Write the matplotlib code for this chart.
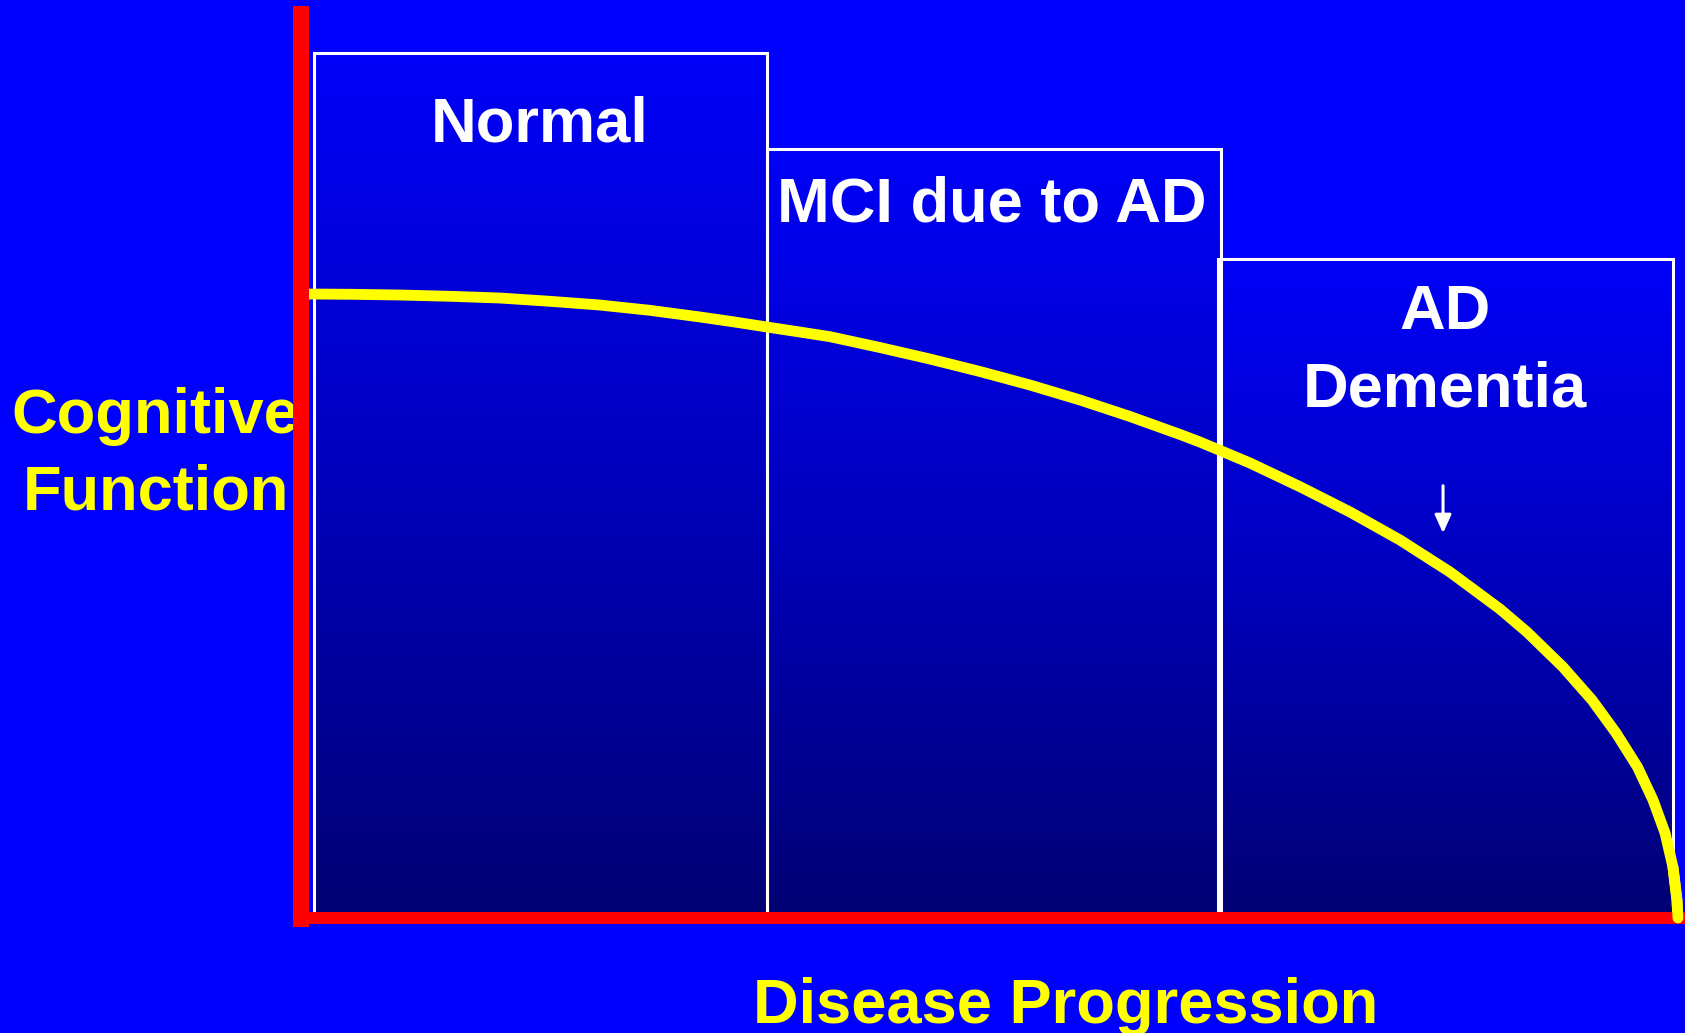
import numpy as np
import matplotlib.pyplot as plt
from matplotlib.colors import LinearSegmentedColormap
from matplotlib.patches import Rectangle

# stages of the disease: left/right edge and top of each box
stage_left = [1.0, 33.7, 66.3]
stage_right = [33.7, 66.5, 99.1]
stage_top = [94.9, 84.3, 72.3]

# cognitive function along disease progression
progression = [0.58, 3.61, 7.22, 10.83, 14.44, 18.05, 21.66, 25.27, 28.88,
               31.26, 33.72, 36.10, 38.27, 41.88, 45.49, 49.10, 52.71, 56.32,
               59.93, 63.54, 64.98, 68.59, 72.20, 75.81, 79.42, 83.03, 86.64,
               88.59, 91.19, 93.29, 95.02, 96.57, 97.69, 98.56, 99.13, 99.42,
               99.49]
cognition = [68.42, 68.39, 68.31, 68.17, 67.98, 67.62, 67.21, 66.63, 65.90,
             65.38, 64.80, 64.25, 63.74, 62.55, 61.29, 59.92, 58.44, 56.80,
             54.99, 53.02, 52.19, 49.89, 47.29, 44.52, 41.45, 37.94, 33.88,
             31.36, 27.52, 23.90, 20.29, 16.56, 12.94, 9.32, 5.59, 1.97,
             0.0]

BG = "#0000ff"
FONT = "Liberation Sans"

fig = plt.figure(figsize=(16.85, 10.33), dpi=100, facecolor=BG)
ax = fig.add_axes([300 / 1685, 115 / 1033, 1385 / 1685, 912 / 1033])
ax.set_xlim(0, 100)
ax.set_ylim(0, 100)
ax.axis("off")

grad = LinearSegmentedColormap.from_list(
    "box", [(0, "#000072"), (0.5, "#0000bc"), (1, "#0000f8")])
g = np.linspace(0, 1, 256).reshape(-1, 1)

for x0, x1, top in zip(stage_left, stage_right, stage_top):
    ax.imshow(g, cmap=grad, origin="lower", aspect="auto",
              extent=[x0, x1, 0, top], zorder=1)
    ax.add_patch(Rectangle((x0, 0), x1 - x0, top, fill=False,
                           edgecolor="white", lw=2.2, zorder=2))

# box labels
lbl = dict(ha="center", va="baseline", color="white", fontsize=45.5,
           fontweight="bold", family=FONT, zorder=5)
ax.text(17.33, 85.09, "Normal", **lbl)
ax.text(49.96, 76.32, "MCI due to AD", **lbl)
ax.text(82.67, 64.58, "AD", **lbl)
ax.text(82.67, 56.14, "Dementia", **lbl)

ax.annotate("", xy=(82.53, 42.2), xytext=(82.53, 47.4),
            arrowprops=dict(arrowstyle="-|>,head_length=1.1,head_width=0.5",
                            mutation_scale=10, color="white", lw=2.2,
                            shrinkA=0, shrinkB=0), zorder=5)

# the decline curve
ax.plot(progression, cognition, color="#ffff00", lw=7.8,
        solid_capstyle="round", solid_joinstyle="round", zorder=6, clip_on=False)

# red axes
ax.plot([0.04, 0.04], [-0.99, 100], color="#ff0000", lw=11.5,
        solid_capstyle="butt", zorder=7, clip_on=False)
ax.plot([-0.5, 100], [0, 0], color="#ff0000", lw=8.6,
        solid_capstyle="butt", zorder=7, clip_on=False)
# curve end sits on top of the red baseline
ax.plot(progression[-3:], cognition[-3:], color="#ffff00", lw=7.8,
        solid_capstyle="round", zorder=8, clip_on=False)

# axis titles
ttl = dict(ha="center", va="baseline", color="#ffff00", fontsize=45.5,
           fontweight="bold", family=FONT, zorder=4)
ax.text(-10.47, 53.18, "Cognitive", **ttl)
ax.text(-10.4, 44.74, "Function", **ttl)
ax.text(55.31, -11.51, "Disease Progression", **ttl)

fig.savefig("out.png", dpi=100, facecolor=BG)
